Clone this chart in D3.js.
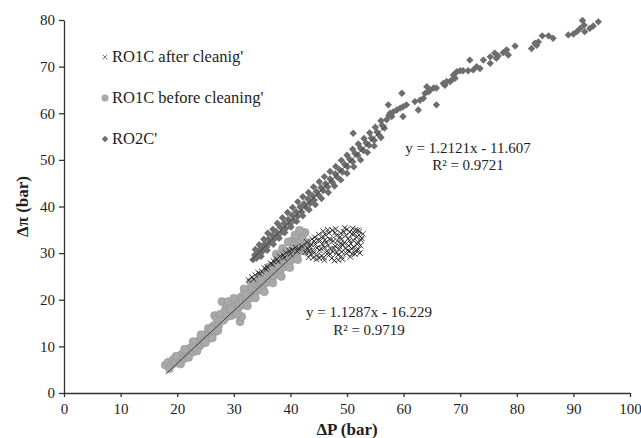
<!DOCTYPE html>
<html>
<head>
<meta charset="utf-8">
<script src="https://cdn.jsdelivr.net/npm/d3@7"></script>
<style>
  body { margin: 0; background: #fff; }
  svg text { font-family: "Liberation Serif", "Times New Roman", serif; fill: #1e1e1e; }
  .axis text { font-size: 15px; }
  .axis path, .axis line { stroke: #333; stroke-width: 1.3; }
</style>
</head>
<body>
<svg width="641" height="438"></svg>
<script>
// RO1C after cleaning (crosses)
var afterCleaning = [
  [32.6,24.2],[33.2,24.9],[33.8,25.3],[34.3,25.8],[34.9,26.1],[35.4,26.8],[35.9,27.0],[36.5,27.8],
  [37.0,28.3],[37.6,28.7],[38.1,29.3],[38.7,29.6],[39.2,30.1],[39.8,30.5],[40.3,30.7],[40.9,31.2],
  [41.4,31.0],[42.0,31.5],[33.5,24.4],[34.6,25.6],[35.7,26.5],[36.8,27.6],[37.8,28.2],[38.9,29.0],
  [40.0,29.8],[41.2,30.4],
  [42.6,30.2],[42.9,32.4],[43.2,29.1],[43.5,31.4],[43.8,33.0],[44.1,30.0],[44.4,31.9],[44.6,28.7],
  [44.9,32.8],[45.2,30.6],[45.5,29.4],[45.7,33.6],[46.0,31.2],[46.3,32.3],[46.5,29.8],[46.8,34.3],
  [47.1,30.9],[47.3,28.9],[47.6,32.6],[47.9,31.5],[48.1,33.8],[48.4,29.6],[48.6,30.8],[48.9,32.1],
  [49.2,28.7],[49.4,34.6],[49.7,31.0],[49.9,29.9],[50.2,33.1],[50.4,30.4],[50.7,32.0],[50.9,34.1],
  [51.2,31.3],[51.4,29.8],[51.7,33.4],[51.9,32.4],[52.2,34.7],[52.4,31.6],[52.6,33.2],[45.0,34.0],
  [46.6,35.0],[48.0,35.2],[49.0,33.0],[50.0,35.1],[51.0,35.3],[47.0,29.8],[48.7,31.4],[45.6,31.9],
  [44.0,29.0],[43.3,30.5],[46.0,28.5],[47.8,28.4],[49.5,32.2],[50.6,29.2],[51.6,30.5],[52.5,32.8],
  [44.7,31.1],[46.9,33.0],[48.3,32.6],[50.3,31.6],[52.0,30.8],[43.7,31.8],[45.3,32.7],[49.1,30.3],
  [51.3,34.2],[43.0,31.1],[43.6,29.8],[44.2,32.6],[44.8,29.6],[45.4,31.0],[45.9,29.1],[46.2,33.9],
  [46.7,31.7],[47.2,32.9],[47.5,30.3],[47.9,34.4],[48.2,30.1],[48.8,33.5],[49.0,29.3],[49.3,31.8],
  [49.8,33.8],[50.1,30.6],[50.5,34.5],[50.8,31.0],[51.1,32.8],[51.5,35.0],[51.8,31.9],[52.1,33.9],
  [52.3,30.0],[52.8,34.1],[44.3,33.4],[45.8,34.7],[47.4,34.9],[49.6,35.4],[48.5,28.5],[50.9,29.9],
  [46.4,30.4],[43.9,30.6],[45.1,28.9],[46.1,32.8],[47.7,31.0],[48.9,34.3],[50.4,32.7],[51.9,34.9]
];

// RO1C before cleaning (circles)
var beforeCleaning = [
  [17.9,6.0],[18.4,6.6],[18.9,6.0],[19.3,7.2],[19.6,6.4],[20.0,7.7],[20.4,6.9],[20.8,8.3],
  [21.1,7.3],[21.5,8.9],[21.9,8.0],[22.2,9.6],[22.6,8.7],[22.9,10.4],[23.3,9.3],[23.6,11.1],
  [24.0,10.1],[24.3,11.8],[24.7,10.8],[25.0,12.6],[25.4,11.6],[25.7,13.4],[26.1,12.4],[26.4,14.4],
  [26.8,13.2],[26.6,16.6],[27.0,15.9],[27.3,14.4],[27.6,16.9],[27.9,19.6],[28.2,15.6],[28.5,17.9],
  [28.7,18.6],[28.9,16.4],[29.3,18.3],[29.6,16.6],[29.9,19.3],[30.2,17.5],[30.5,20.0],[30.8,18.2],
  [31.1,15.3],[31.4,16.4],[31.3,20.6],[31.6,18.9],[31.9,21.3],[32.2,19.6],[32.5,22.0],[32.8,20.3],
  [33.1,22.8],[33.4,21.0],[33.7,23.5],[34.0,21.8],[34.3,24.1],[34.6,22.4],[34.9,24.8],[35.2,23.1],
  [35.5,25.4],[35.8,23.7],[36.1,26.1],[36.4,24.4],[36.7,26.7],[37.0,25.0],[37.3,27.4],[37.6,25.7],
  [37.9,28.0],[38.2,26.3],[38.5,28.6],[38.8,27.0],[39.1,29.3],[39.4,27.7],[39.7,30.0],[40.0,28.3],
  [40.3,30.7],[40.6,29.0],[40.9,31.5],[41.2,29.8],[41.5,32.4],[41.8,30.6],[42.1,33.5],[42.4,31.4],
  [42.6,34.4],[42.9,32.3],[40.2,32.6],[41.0,33.6],[39.6,32.4],[38.6,31.0],[37.5,29.8],
  [18.6,5.2],[19.8,7.9],[20.6,6.2],[21.3,9.4],[22.0,7.6],[22.8,11.0],[23.5,9.0],[24.2,12.5],
  [25.0,10.8],[25.5,13.9],[26.2,11.8],[27.2,13.4],[29.0,19.6],[30.0,20.3],[30.6,16.9],[31.8,22.3],
  [32.4,18.7],[33.0,23.8],[33.8,20.4],[34.6,25.1],[35.4,21.7],[36.2,27.0],[36.9,23.6],[37.6,28.3],
  [38.4,25.0],[39.2,30.4],[39.9,26.9],[40.6,31.6],[41.3,28.6],[42.0,34.6],[42.7,30.4],[41.6,34.9],
  [40.8,33.9],[23.0,9.7],[26.0,13.7],[29.5,18.0],[32.1,21.0],[35.0,24.0],[38.0,27.2],[40.5,30.0]
];

// RO2C' (diamonds)
var ro2c = [
  [33.4,28.6],[33.7,29.6],[34.0,28.9],[34.3,30.4],[34.6,29.8],[34.9,31.2],[35.2,30.5],[35.5,32.0],
  [35.8,31.3],[36.1,33.0],[36.4,32.2],[36.8,33.8],[37.1,32.9],[37.5,34.6],[37.8,33.7],[38.2,35.6],
  [38.5,34.5],[38.9,36.4],[39.2,35.3],[39.6,37.2],[39.9,36.2],[40.3,38.1],[40.6,37.0],[41.0,38.9],
  [41.3,37.9],[41.7,39.9],[42.0,38.8],[42.4,40.6],[42.8,39.8],[43.1,41.6],[43.5,40.7],[43.9,42.3],
  [44.2,41.4],[44.6,43.2],[45.0,42.4],[45.4,44.1],[45.8,43.4],[46.2,44.9],[46.6,44.2],[47.0,45.9],
  [47.4,45.2],[47.9,47.0],[48.3,46.3],[48.7,47.9],[49.2,47.4],[49.6,49.0],[50.1,48.5],[50.5,50.1],
  [51.0,49.6],[51.4,51.4],[51.1,55.7],[51.9,51.0],[52.4,52.5],[52.9,52.0],[53.4,53.6],[53.9,53.1],
  [54.3,54.7],[54.8,54.2],[55.3,56.0],[55.7,55.3],[56.2,57.4],[56.6,56.8],[57.0,58.6],[57.4,59.5],
  [33.8,30.8],[34.5,31.8],[35.3,33.0],[36.0,34.3],[36.9,35.1],[37.7,36.4],[38.6,37.6],[39.5,38.7],
  [40.4,39.8],[41.3,41.0],[42.2,42.1],[43.2,43.0],[44.1,44.2],[45.1,45.3],[46.0,46.4],[47.0,47.5],
  [48.0,48.6],[49.0,49.9],[50.0,51.0],[51.0,52.3],[52.0,53.4],[53.0,54.6],[54.0,55.8],[55.0,57.0],
  [56.0,58.4],[34.8,29.3],[35.9,30.6],[37.0,31.9],[38.0,33.2],[39.0,34.4],[40.1,35.6],[41.1,36.8],
  [42.2,38.0],[43.3,39.3],[44.4,40.4],[45.5,41.7],[46.7,43.0],[47.8,44.4],[48.9,45.7],[50.0,47.1],
  [51.2,48.5],[52.4,50.0],[53.6,51.6],[54.8,53.0],[56.0,54.8],
  [57.3,61.8],[57.6,60.0],[57.9,59.3],[58.2,60.3],[58.8,60.7],[59.4,61.1],[59.9,61.4],[59.7,64.3],
  [60.5,61.8],[59.9,59.3],[62.0,62.5],[62.6,60.7],[62.9,62.8],[63.5,63.2],[63.8,64.3],[64.1,65.7],
  [64.4,64.6],[64.7,65.0],[65.3,65.4],[65.8,65.4],[65.8,61.8],[67.0,66.4],[67.3,66.0],[67.6,66.8],
  [68.2,66.8],[68.5,67.1],[68.8,68.2],[69.1,67.5],[69.4,68.9],[70.0,69.1],[70.5,69.1],[71.4,69.1],
  [71.7,71.4],[72.3,69.3],[72.9,70.0],[73.5,69.6],[74.1,71.4],[75.3,72.1],[75.3,70.7],[76.1,72.9],
  [76.4,71.8],[76.7,72.3],[77.6,73.0],[78.2,73.6],[78.5,72.5],[79.7,74.4],[82.6,73.9],[83.2,75.0],
  [83.5,74.6],[83.8,75.3],[84.5,76.6],[85.6,76.6],[86.4,76.1],[89.1,76.8],[90.0,77.0],[90.6,77.5],
  [91.2,78.2],[91.6,79.9],[91.9,78.9],[92.0,77.5],[92.9,78.2],[93.5,78.7],[94.4,79.6]
];

// linear trendlines: slope, intercept, x range
var fitBefore = {slope: 1.1287, icpt: -16.229, from: 18, to: 43};
var fitRo2c = {slope: 1.2121, icpt: -11.607, from: 33, to: 57};

var xTicks = [0, 10, 20, 30, 40, 50, 60, 70, 80, 90, 100];
var yTicks = [0, 10, 20, 30, 40, 50, 60, 70, 80];
var legendNames = ["RO1C after cleanig'", "RO1C before cleaning'", "RO2C'"];

var svg = d3.select("svg");
var margin = {top: 20, right: 11, bottom: 45, left: 64};
var width = 641 - margin.left - margin.right,
    height = 438 - margin.top - margin.bottom;

var g = svg.append("g").attr("transform", "translate(" + margin.left + "," + margin.top + ")");

var x = d3.scaleLinear().domain([0, 100]).range([0, width]);
var y = d3.scaleLinear().domain([0, 80]).range([height, 0]);

g.append("g").attr("class", "axis")
  .call(d3.axisLeft(y).tickValues(yTicks).tickSize(5).tickSizeOuter(0).tickPadding(4));
g.append("g").attr("class", "axis")
  .attr("transform", "translate(0," + height + ")")
  .call(d3.axisBottom(x).tickValues(xTicks).tickSize(4).tickSizeOuter(0).tickPadding(6));
g.selectAll(".axis text").attr("fill", "#1e1e1e");

// axis titles
svg.append("text")
  .attr("x", margin.left + width / 2).attr("y", 435)
  .attr("text-anchor", "middle")
  .style("font-size", "17px").style("font-weight", "bold")
  .text("ΔP (bar)");
svg.append("text")
  .attr("transform", "translate(28," + (margin.top + height / 2) + ") rotate(-90)")
  .attr("text-anchor", "middle")
  .style("font-size", "17px").style("font-weight", "bold")
  .text("Δπ (bar)");

function diamond(s) { return "M0," + -s + "L" + s + ",0L0," + s + "L" + -s + ",0Z"; }
function cross(s) { return "M" + -s + "," + -s + "L" + s + "," + s + "M" + -s + "," + s + "L" + s + "," + -s; }

// circles
g.append("g").selectAll("circle")
  .data(beforeCleaning)
  .enter().append("circle")
  .attr("cx", d => x(d[0]))
  .attr("cy", d => y(d[1]))
  .attr("r", 4)
  .attr("fill", "#a9a9a9")
  .attr("stroke", "#969696")
  .attr("stroke-width", 0.6);

// diamonds
g.append("g").selectAll("path")
  .data(ro2c)
  .enter().append("path")
  .attr("transform", d => "translate(" + x(d[0]) + "," + y(d[1]) + ")")
  .attr("d", diamond(3.7))
  .attr("fill", "#6d6d6d");

// crosses
g.append("g").selectAll("path")
  .data(afterCleaning)
  .enter().append("path")
  .attr("transform", d => "translate(" + x(d[0]) + "," + y(d[1]) + ")")
  .attr("d", cross(2.8))
  .attr("fill", "none")
  .attr("stroke", "#1a1a1a")
  .attr("stroke-width", 0.85);

// trendlines
[fitBefore, fitRo2c].forEach(function(f) {
  g.append("line")
    .attr("x1", x(f.from)).attr("y1", y(f.slope * f.from + f.icpt))
    .attr("x2", x(f.to)).attr("y2", y(f.slope * f.to + f.icpt))
    .attr("stroke", "#333")
    .attr("stroke-width", 0.9);
});

// equations
var eq = svg.append("g").style("font-size", "15px");
eq.append("text").attr("x", 468).attr("y", 153).attr("text-anchor", "middle").text("y = 1.2121x - 11.607");
eq.append("text").attr("x", 468).attr("y", 170).attr("text-anchor", "middle").text("R² = 0.9721");
eq.append("text").attr("x", 369).attr("y", 317).attr("text-anchor", "middle").text("y = 1.1287x - 16.229");
eq.append("text").attr("x", 369).attr("y", 335).attr("text-anchor", "middle").text("R² = 0.9719");

// legend
var legend = svg.append("g").attr("transform", "translate(105,57)");
var rows = legend.selectAll("g").data(legendNames).enter().append("g")
  .attr("transform", (d, i) => "translate(0," + i * 41 + ")");
rows.append("text").attr("x", 7).attr("y", 5).style("font-size", "16.5px").text(d => d);
rows.filter((d, i) => i === 0).append("path").attr("d", cross(2.3))
  .attr("stroke", "#555").attr("stroke-width", 0.8).attr("fill", "none");
rows.filter((d, i) => i === 1).append("circle").attr("r", 3.2)
  .attr("fill", "#a9a9a9").attr("stroke", "#969696").attr("stroke-width", 0.6);
rows.filter((d, i) => i === 2).append("path").attr("d", diamond(3.2))
  .attr("fill", "#6d6d6d");
</script>
</body>
</html>
